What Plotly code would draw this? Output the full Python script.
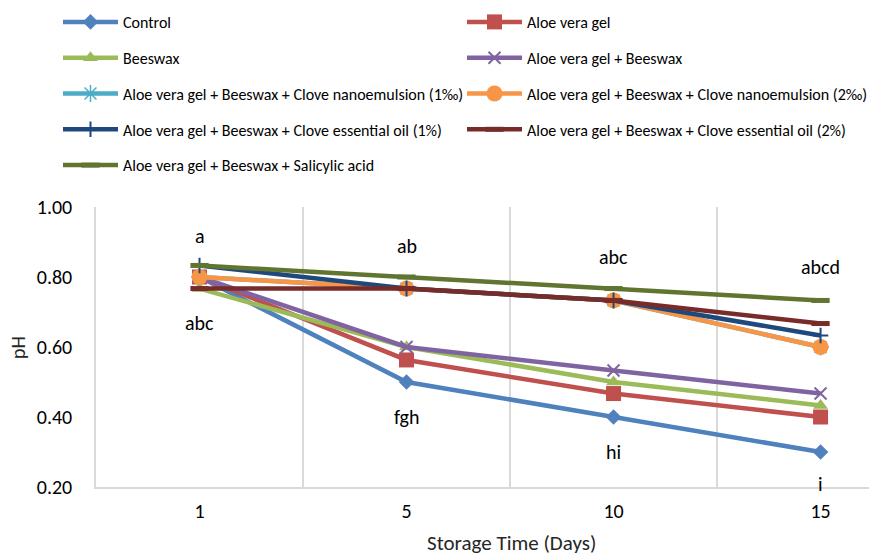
import plotly.graph_objects as go

# ---- data ----
days = ["1", "5", "10", "15"]
control = [0.80, 0.50, 0.40, 0.30]
aloe_gel = [0.80, 0.563, 0.467, 0.40]
beeswax = [0.767, 0.60, 0.50, 0.433]
aloe_beeswax = [0.80, 0.60, 0.533, 0.467]
nano_1 = [0.80, 0.767, 0.733, 0.60]
nano_2 = [0.80, 0.767, 0.733, 0.60]
eo_1 = [0.833, 0.767, 0.733, 0.633]
eo_2 = [0.767, 0.767, 0.733, 0.667]
salicylic = [0.833, 0.80, 0.767, 0.733]

letters_text = ["a", "abc", "ab", "fgh", "abc", "hi", "abcd", "i"]
letters_day = ["1", "1", "5", "5", "10", "10", "15", "15"]
letters_y = [0.917, 0.669, 0.889, 0.40, 0.856, 0.30, 0.828, 0.209]

FONT = "Calibri, Carlito, Lato, sans-serif"
xpos = list(range(len(days)))
boundaries = [i + 0.5 for i in xpos[:-1]]

series = [
    ("Control", control, "#4F81BD", dict(symbol="diamond", size=12), "legend"),
    ("Aloe vera gel", aloe_gel, "#C0504D", dict(symbol="square", size=15), "legend2"),
    ("Beeswax", beeswax, "#9BBB59", dict(symbol="triangle-up", size=13), "legend"),
    ("Aloe vera gel + Beeswax", aloe_beeswax, "#8064A2",
     dict(symbol="x-thin", size=12, line=dict(width=2, color="#8064A2")), "legend2"),
    ("Aloe vera gel + Beeswax + Clove nanoemulsion (1‰)", nano_1, "#4BACC6",
     dict(symbol="asterisk", size=14, line=dict(width=1.5, color="#4BACC6")), "legend"),
    ("Aloe vera gel + Beeswax + Clove nanoemulsion (2‰)", nano_2, "#F79646",
     dict(symbol="circle", size=16), "legend2"),
    ("Aloe vera gel + Beeswax + Clove essential oil (1%)", eo_1, "#1F497D",
     dict(symbol="cross-thin", size=11, line=dict(width=2, color="#1F497D")), "legend"),
    ("Aloe vera gel + Beeswax + Clove essential oil (2%)", eo_2, "#772C2A",
     dict(symbol="line-ew", size=13, line=dict(width=5, color="#772C2A")), "legend2"),
    ("Aloe vera gel + Beeswax + Salicylic acid", salicylic, "#5F7530",
     dict(symbol="line-ew", size=13, line=dict(width=5, color="#5F7530")), "legend"),
]

fig = go.Figure()
for i, (name, vals, color, mk, leg) in enumerate(series):
    mk = dict(mk)
    mk.setdefault("color", color)
    fig.add_trace(go.Scatter(
        x=xpos, y=vals, name=name, mode="lines+markers",
        line=dict(color=color, width=4.5),
        marker=mk, legend=leg, legendgroup="g%d" % i,
    ))

for t, d, yv in zip(letters_text, letters_day, letters_y):
    fig.add_annotation(x=days.index(d), y=yv, xref="x", yref="y", text=t, showarrow=False,
                       font=dict(family=FONT, size=20, color="#000000"),
                       xanchor="center", yanchor="middle")

# axis titles
fig.add_annotation(x=0.537, y=-0.2536, xref="paper", yref="paper",
                   text="Storage Time (Days)", showarrow=False,
                   font=dict(family=FONT, size=21, color="#262626"),
                   xanchor="center", yanchor="bottom")
fig.add_annotation(x=-0.101, y=0.5, xref="paper", yref="paper",
                   text="pH", textangle=-90, showarrow=False,
                   font=dict(family=FONT, size=20, color="#262626"),
                   xanchor="center", yanchor="middle")

legend_common = dict(
    xref="container", yref="container", xanchor="left", yanchor="top",
    orientation="v", font=dict(family=FONT, size=16, color="#000000"),
    bgcolor="rgba(0,0,0,0)", tracegroupgap=12, itemwidth=55,
)

fig.update_layout(
    width=869, height=558,
    margin=dict(l=96, r=0, t=207, b=71, autoexpand=False),
    paper_bgcolor="white", plot_bgcolor="white",
    font=dict(family=FONT, color="#404040"),
    showlegend=True,
    legend=dict(x=58 / 869, y=1 - 5 / 558, **legend_common),
    legend2=dict(x=462 / 869, y=1 - 5 / 558, **legend_common),
    xaxis=dict(
        range=[-0.5, 3.234], tickmode="array", tickvals=xpos, ticktext=days,
        ticks="", showgrid=False, zeroline=False,
        minor=dict(tickmode="array", tickvals=boundaries, showgrid=True,
                   gridcolor="#D9D9D9", gridwidth=1.5, ticks=""),
        showline=True, linecolor="#D9D9D9", linewidth=1.5,
        tickfont=dict(family=FONT, size=20, color="#000000"),
        ticklabelstandoff=5,
    ),
    yaxis=dict(
        range=[0.2, 1.0], tickmode="array", tickvals=[0.2, 0.4, 0.6, 0.8, 1.0],
        tickformat=".2f",
        showgrid=False, zeroline=False, ticks="",
        showline=True, linecolor="#D9D9D9", linewidth=1.5,
        tickfont=dict(family=FONT, size=20, color="#000000"),
        ticklabelstandoff=18,
    ),
)

fig.write_html("out.html")
